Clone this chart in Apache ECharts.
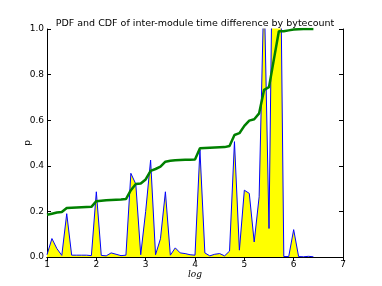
<!DOCTYPE html>
<html>
<head>
<meta charset="utf-8">
<script src="https://cdn.jsdelivr.net/npm/echarts@6/dist/echarts.min.js"></script>
<style>html,body{margin:0;padding:0;background:#fff;}#c{width:382px;height:286px;}</style>
</head>
<body>
<div id="c"></div>
<script>
var xs = [1.0,1.1,1.2,1.3,1.4,1.5,1.6,1.7,1.8,1.9,
          2.0,2.1,2.2,2.3,2.4,2.5,2.6,2.7,2.8,2.9,
          3.0,3.1,3.2,3.3,3.4,3.5,3.6,3.7,3.8,3.9,
          4.0,4.1,4.2,4.3,4.4,4.5,4.6,4.7,4.8,4.9,
          5.0,5.1,5.2,5.3,5.4,5.5,5.6,5.7,5.8,5.9,
          6.0,6.1,6.2,6.3,6.4];
var pdf = [0.01,0.081,0.037,0.007,0.19,0.008,0.008,0.008,0.008,0.006,
           0.286,0.007,0.005,0.018,0.012,0.006,0.008,0.367,0.32,0.01,
           0.2,0.425,0.01,0.08,0.286,0.008,0.04,0.018,0.015,0.01,
           0.008,0.47,0.018,0.005,0.012,0.015,0.005,0.026,0.506,0.03,
           0.293,0.279,0.066,0.264,1.2,0.125,1.9,2.0,0.002,0.002,
           0.12,0.002,0.001,0.003,0.001];
var cdf = [0.185,0.19,0.195,0.197,0.215,0.216,0.217,0.218,0.219,0.22,
           0.245,0.247,0.249,0.25,0.251,0.252,0.254,0.293,0.32,0.322,
           0.34,0.378,0.386,0.396,0.418,0.422,0.424,0.425,0.426,0.427,
           0.428,0.477,0.478,0.479,0.48,0.481,0.482,0.487,0.535,0.543,
           0.575,0.598,0.604,0.63,0.733,0.745,0.868,0.99,0.99,0.994,
           0.998,0.999,1.0,1.0,1.0];
var xTicks = [1,2,3,4,5,6,7];
var yTicks = ['0.0','0.2','0.4','0.6','0.8','1.0'];

var pdfData = xs.map(function(x,i){return [x,pdf[i]];});
var cdfData = xs.map(function(x,i){return [x,cdf[i]];});

var FONT = 'DejaVu Sans';
var chart = echarts.init(document.getElementById('c'), null, {renderer:'canvas'});
var axisCommon = {
  axisLine:{show:true,lineStyle:{color:'#000',width:1}},
  axisTick:{show:true,inside:true,length:4,lineStyle:{color:'#000',width:1}},
  splitLine:{show:false}
};
chart.setOption({
  animation:false,
  backgroundColor:'#fff',
  title:{text:'PDF and CDF of inter-module time difference by bytecount',left:190,textAlign:'center',top:14,
    textStyle:{fontFamily:FONT,fontSize:9.5,fontWeight:'normal',color:'#000'}},
  grid:{left:47,right:39,top:29,bottom:29,containLabel:false},
  xAxis:[
    Object.assign({type:'value',position:'bottom',min:1,max:7,interval:1,
      name:'log',nameLocation:'middle',nameGap:13,nameMoveOverlap:false,
      nameTextStyle:{fontFamily:'DejaVu Serif',fontStyle:'italic',fontSize:9,color:'#000'},
      axisLabel:{fontFamily:FONT,fontSize:9,color:'#000',margin:3,formatter:function(v){return xTicks.indexOf(v)>=0?String(v):'';}}},axisCommon),
    Object.assign({type:'value',position:'top',min:1,max:7,interval:1,axisLabel:{show:false}},axisCommon)
  ],
  yAxis:[
    Object.assign({type:'value',position:'left',min:0,max:1,interval:0.2,
      name:'p',nameLocation:'middle',nameGap:15,nameMoveOverlap:false,
      nameTextStyle:{fontFamily:FONT,fontSize:9,color:'#000'},
      axisLabel:{fontFamily:FONT,fontSize:9,color:'#000',margin:3,formatter:function(v){return yTicks[Math.round(v*5)];}}},axisCommon),
    Object.assign({type:'value',position:'right',min:0,max:1,interval:0.2,axisLabel:{show:false}},axisCommon)
  ],
  series:[
    {type:'line',data:pdfData,xAxisIndex:0,yAxisIndex:0,showSymbol:false,symbol:'none',clip:true,
      lineStyle:{color:'#0000ff',width:1},areaStyle:{color:'#ffff00',opacity:1,origin:'start'},z:2},
    {type:'line',data:cdfData,xAxisIndex:0,yAxisIndex:0,showSymbol:false,symbol:'none',clip:true,
      lineStyle:{color:'#008000',width:2.5},z:3}
  ]
});
</script>
</body>
</html>
